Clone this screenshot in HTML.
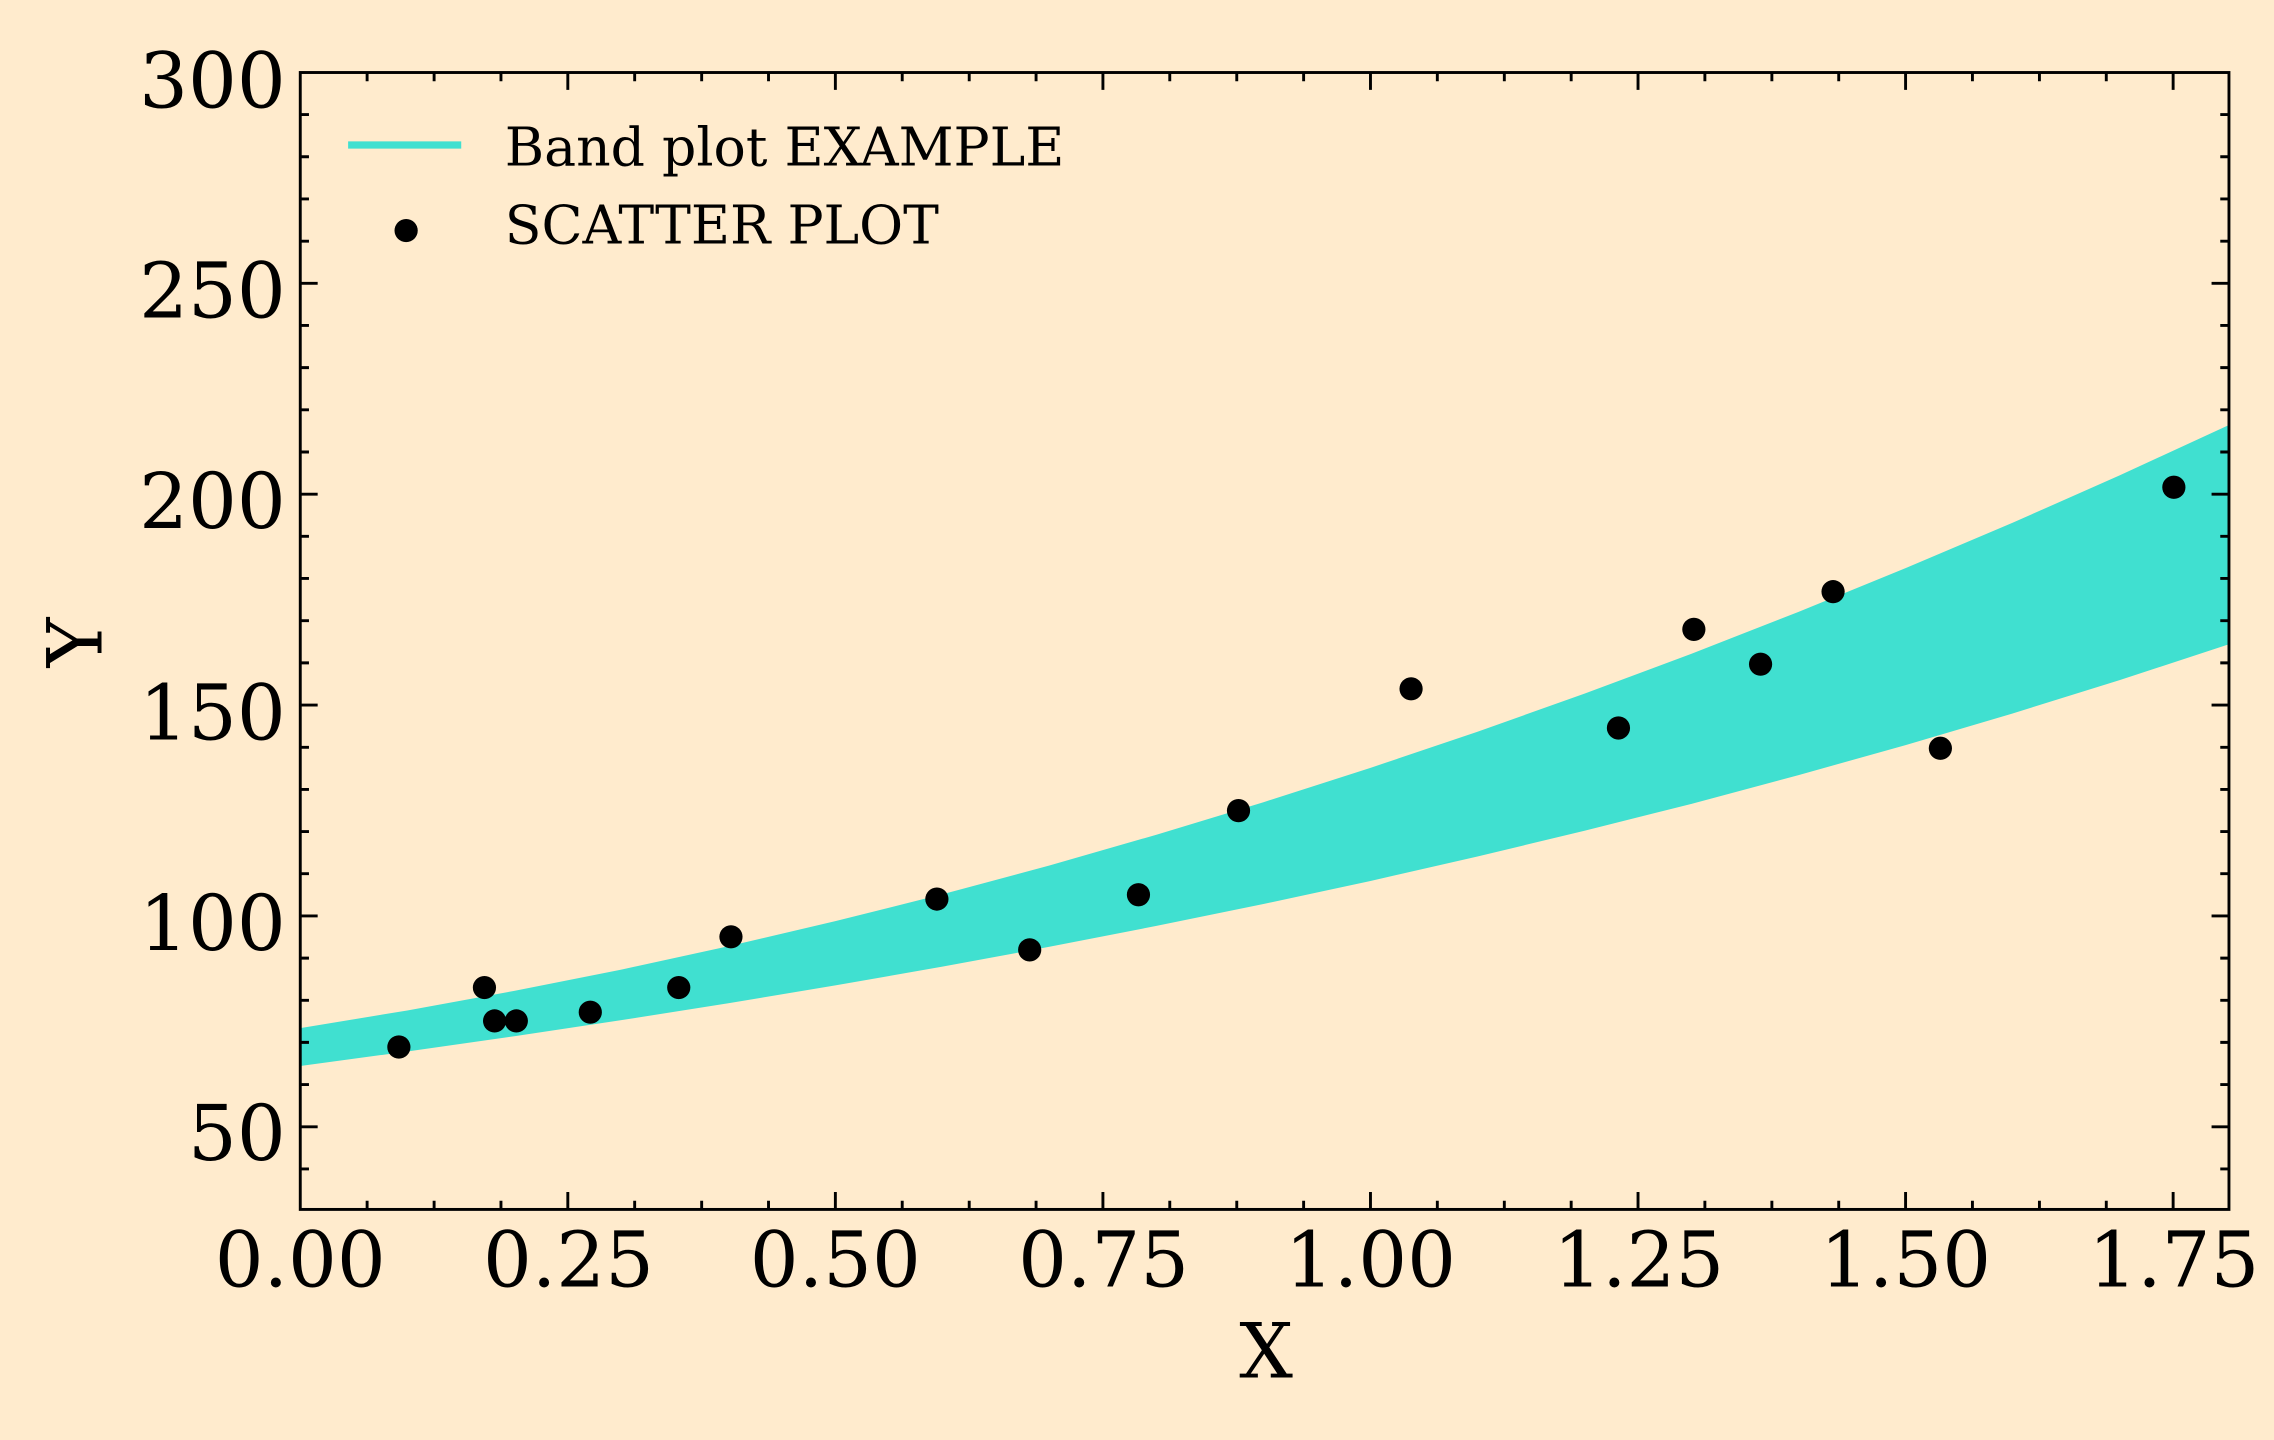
<!DOCTYPE html>
<html><head><meta charset="utf-8"><style>html,body{margin:0;padding:0;background:#ffebcd}svg{display:block}</style></head>
<body>
<svg width="2274" height="1440" viewBox="0 0 1568 993" xmlns="http://www.w3.org/2000/svg" font-family="'DejaVu Serif','Liberation Serif',serif">
<rect width="1568" height="993" fill="#ffebcd"/>
<defs><clipPath id="c"><rect x="207" y="50" width="1330" height="784"/></clipPath></defs>
<polygon clip-path="url(#c)" fill="#40e0d0" points="207,709 280.8,696.8 354.6,683.3 428.4,668.6 502.2,652.5 576,635.2 649.8,616.7 723.6,596.8 797.4,575.6 871.2,553.2 945,529.5 1018.8,504.6 1092.6,478.3 1166.4,450.8 1240.2,421.9 1314,391.8 1387.8,360.5 1461.6,327.8 1537,293.1 1537,444.3 1461.6,469 1387.8,492 1314,513.8 1240.2,534.5 1166.4,554.3 1092.6,572.9 1018.8,590.6 945,607.5 871.2,623.4 797.4,638.5 723.6,652.9 649.8,666.6 576,679.5 502.2,691.8 428.4,703.5 354.6,714.6 280.8,725.1 207,735.1"/>
<g fill="#000">
<circle cx="275" cy="722" r="8"/><circle cx="334" cy="681" r="8"/><circle cx="341" cy="704" r="8"/><circle cx="356" cy="704" r="8"/><circle cx="407" cy="698" r="8"/><circle cx="468" cy="681" r="8"/><circle cx="504" cy="646" r="8"/><circle cx="646" cy="620" r="8"/><circle cx="710" cy="655" r="8"/><circle cx="785" cy="617" r="8"/><circle cx="854" cy="559" r="8"/><circle cx="973" cy="475" r="8"/><circle cx="1116" cy="502" r="8"/><circle cx="1168" cy="434" r="8"/><circle cx="1214" cy="458" r="8"/><circle cx="1264" cy="408" r="8"/><circle cx="1338" cy="516" r="8"/><circle cx="1499" cy="336" r="8"/>
</g>
<rect x="207" y="50" width="1330" height="784" fill="none" stroke="#000" stroke-width="2"/>
<g stroke="#000" stroke-width="2" fill="none">
<path d="M391.5 834v-12M576 834v-12M760.5 834v-12M945 834v-12M1129.5 834v-12M1314 834v-12M1498.5 834v-12M391.5 50v12M576 50v12M760.5 50v12M945 50v12M1129.5 50v12M1314 50v12M1498.5 50v12"/>
<path d="M253.1 834v-6M299.3 834v-6M345.4 834v-6M437.6 834v-6M483.8 834v-6M529.9 834v-6M622.1 834v-6M668.3 834v-6M714.4 834v-6M806.6 834v-6M852.8 834v-6M898.9 834v-6M991.1 834v-6M1037.3 834v-6M1083.4 834v-6M1175.6 834v-6M1221.8 834v-6M1267.9 834v-6M1360.1 834v-6M1406.3 834v-6M1452.4 834v-6
M253.1 50v6M299.3 50v6M345.4 50v6M437.6 50v6M483.8 50v6M529.9 50v6M622.1 50v6M668.3 50v6M714.4 50v6M806.6 50v6M852.8 50v6M898.9 50v6M991.1 50v6M1037.3 50v6M1083.4 50v6M1175.6 50v6M1221.8 50v6M1267.9 50v6M1360.1 50v6M1406.3 50v6M1452.4 50v6"/>
<path d="M207 777h12M207 631.6h12M207 486.2h12M207 340.8h12M207 195.4h12M1537 777h-12M1537 631.6h-12M1537 486.2h-12M1537 340.8h-12M1537 195.4h-12"/>
<path d="M207 806.1h6M207 747.9h6M207 718.8h6M207 689.8h6M207 660.7h6M207 602.5h6M207 573.4h6M207 544.4h6M207 515.3h6M207 457.1h6M207 428h6M207 398.9h6M207 369.8h6M207 311.7h6M207 282.6h6M207 253.5h6M207 224.4h6M207 166.3h6M207 137.2h6M207 108.1h6M207 79h6
M1537 806.1h-6M1537 747.9h-6M1537 718.8h-6M1537 689.8h-6M1537 660.7h-6M1537 602.5h-6M1537 573.4h-6M1537 544.4h-6M1537 515.3h-6M1537 457.1h-6M1537 428h-6M1537 398.9h-6M1537 369.8h-6M1537 311.7h-6M1537 282.6h-6M1537 253.5h-6M1537 224.4h-6M1537 166.3h-6M1537 137.2h-6M1537 108.1h-6M1537 79h-6"/>
</g>
<g font-size="53" fill="#000" text-anchor="end">
<text x="197" y="74">300</text><text x="197" y="219">250</text><text x="197" y="364">200</text><text x="197" y="510">150</text><text x="197" y="655">100</text><text x="197" y="800">50</text>
</g>
<g font-size="53" fill="#000" text-anchor="middle">
<text x="207" y="887">0.00</text><text x="392" y="887">0.25</text><text x="576" y="887">0.50</text><text x="761" y="887">0.75</text><text x="945" y="887">1.00</text><text x="1130" y="887">1.25</text><text x="1314" y="887">1.50</text><text x="1499" y="887">1.75</text>
<text x="873" y="950" font-size="52">X</text>
<text transform="translate(70,443) rotate(-90)" font-size="52">Y</text>
</g>
<line x1="240" y1="100" x2="318" y2="100" stroke="#40e0d0" stroke-width="5"/>
<circle cx="280" cy="159" r="8" fill="#000"/>
<g font-size="37" fill="#000"><text x="348" y="114">Band plot EXAMPLE</text><text x="348" y="168">SCATTER PLOT</text></g>
</svg>
</body></html>
